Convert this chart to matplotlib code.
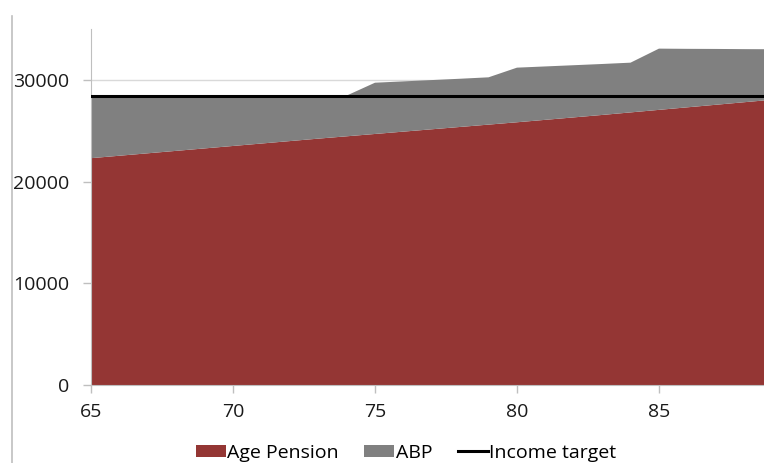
import matplotlib

matplotlib.use("Agg")

import matplotlib.pyplot as plt
from matplotlib.lines import Line2D
from matplotlib.patches import Patch

ages = list(range(65, 90))
age_pension = [22300, 22540, 22780, 23020, 23260, 23500, 23740, 23980, 24220, 24450,
               24680, 24910, 25140, 25370, 25600, 25830, 26070, 26310, 26550, 26800,
               27050, 27300, 27550, 27800, 28050]
total_income = [28450, 28450, 28450, 28450, 28450, 28450, 28450, 28450, 28450, 28450,
                29720, 29850, 29980, 30110, 30250, 31200, 31320, 31440, 31560, 31690,
                33070, 33050, 33040, 33020, 33010]
abp = [t - a for t, a in zip(total_income, age_pension)]
income_target = 28450

RED = "#943634"
GRAY = "#808080"
AXIS = "#bfbfbf"

plt.rcParams["font.family"] = ["Open Sans", "DejaVu Sans"]

fig = plt.figure(figsize=(7.64, 4.63), dpi=100)
ax = fig.add_axes([91 / 764, 78 / 463, 1 - 91 / 764, (385 - 29) / 463])

ax.stackplot(ages, age_pension, abp, colors=[RED, GRAY], linewidth=0, zorder=2)
ax.axhline(income_target, color="black", lw=2.2, zorder=3)

ax.set_xlim(65, 88.7)
ax.set_ylim(0, 35000)
ax.set_xticks([65, 70, 75, 80, 85])
ax.set_yticks([0, 10000, 20000, 30000])
ax.yaxis.grid(True, color="#d9d9d9", lw=1, zorder=0)
ax.set_axisbelow(True)

for side in ("top", "right"):
    ax.spines[side].set_visible(False)
for side in ("left", "bottom"):
    ax.spines[side].set_color(AXIS)
ax.tick_params(axis="both", colors=AXIS, labelcolor="#1a1a1a", labelsize=14, length=6, width=1)
ax.tick_params(axis="y", pad=9.5)
ax.tick_params(axis="x", pad=7)

# outer chart border on the left
fig.add_artist(Line2D([12 / 764, 12 / 764], [0, 1 - 16 / 463], color=AXIS, lw=1.2))

handles = [
    Patch(facecolor=RED, edgecolor="none"),
    Patch(facecolor=GRAY, edgecolor="none"),
    Line2D([0], [0], color="black", lw=2.2),
]
fig.legend(handles, ["Age Pension", "ABP", "Income target"], loc="center",
           bbox_to_anchor=(406 / 764, 1 - 453 / 463), ncol=3, frameon=False,
           fontsize=14, handlelength=1.55, handleheight=0.62, handletextpad=0.08,
           columnspacing=1.3, borderaxespad=0, borderpad=0)

fig.savefig("out.png", dpi=100)
